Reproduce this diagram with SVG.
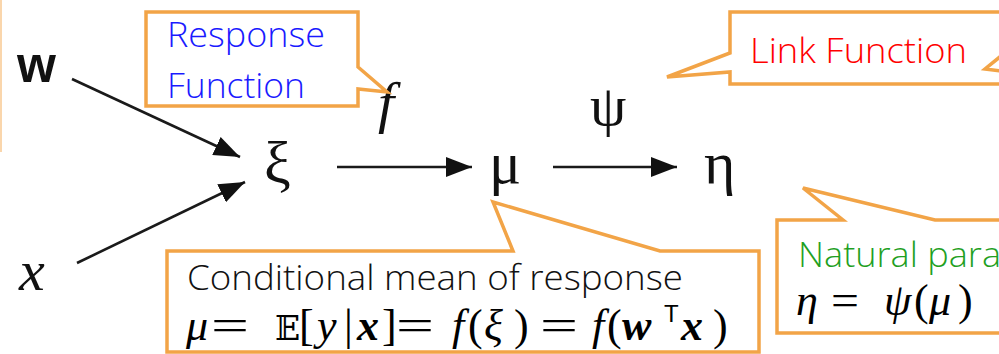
<svg xmlns="http://www.w3.org/2000/svg" width="999" height="354" viewBox="0 0 999 354">
<defs>
<style>
.callout{fill:#ffffff;stroke:#F2A447;stroke-width:3.5;stroke-linejoin:miter}
.lbl{font-family:"Open Sans","Noto Sans","Liberation Sans",sans-serif;font-size:34px;font-weight:300}
.sym{font-family:"Liberation Serif","DejaVu Serif",serif;fill:#111}
.math{font-family:"Liberation Serif","DejaVu Serif",serif;font-size:44px;fill:#000;font-style:italic}
.up{font-style:normal}
.bi{font-weight:bold;font-style:italic}
.conn{stroke:#1a1a1a;stroke-width:2.6;fill:none}
</style>
<marker id="ah" markerUnits="userSpaceOnUse" markerWidth="26" markerHeight="20" refX="26" refY="10" orient="auto">
<path d="M0,0 L26,10 L0,20 Z" fill="#111"/>
</marker>
</defs>
<rect x="0" y="0" width="999" height="354" fill="#ffffff"/>
<line x1="1" y1="0" x2="1" y2="152" stroke="#FAD6AC" stroke-width="2"/>

<g id="connectors">
<line class="conn" x1="72" y1="79" x2="240" y2="157" marker-end="url(#ah)"/>
<line class="conn" x1="77" y1="263" x2="245" y2="182" marker-end="url(#ah)"/>
<line class="conn" x1="337" y1="167" x2="472" y2="167" marker-end="url(#ah)"/>
<line class="conn" x1="553" y1="167" x2="677" y2="167" marker-end="url(#ah)"/>
</g>

<g id="node-w"><text x="17" y="82" font-family="Liberation Sans,sans-serif" font-weight="bold" font-size="50" fill="#111">w</text></g>
<g id="node-x"><text class="sym" x="19" y="290" font-size="58" font-style="italic">x</text></g>
<g id="node-xi"><text class="sym" x="264" y="183" font-size="60">ξ</text></g>
<g id="node-mu"><text class="sym" x="489" y="183" font-size="60">μ</text></g>
<g id="node-eta"><text class="sym" x="704" y="183" font-size="60">η</text></g>
<g id="label-f"><text class="sym" x="378" y="122" font-size="58" font-style="italic">f</text></g>
<g id="label-psi"><text class="sym" x="590" y="125" font-size="58">ψ</text></g>

<g id="callout-response">
<path class="callout" d="M146,12 H358 V67 L387,92 L358,89 V106 H146 Z"/>
<text class="lbl" x="167" y="47" fill="#1A1AFF" textLength="158" lengthAdjust="spacingAndGlyphs">Response</text>
<text class="lbl" x="167" y="98" fill="#1A1AFF" textLength="138" lengthAdjust="spacingAndGlyphs">Function</text>
</g>

<g id="callout-link">
<path class="callout" d="M730,12 H1005 V84 H730 V72 L667,77 L730,53 Z"/>
<text class="lbl" x="750" y="63" fill="#FF0000" textLength="217" lengthAdjust="spacingAndGlyphs">Link Function</text>
<polyline points="1001,56 985,69 1001,71" fill="none" stroke="#F2A447" stroke-width="3.5"/>
</g>

<g id="callout-mean">
<path class="callout" d="M167,251 H513 L493,202 L660,251 H759 V352 H167 Z"/>
<text class="lbl" x="187" y="290" fill="#111" textLength="496" lengthAdjust="spacingAndGlyphs">Conditional mean of response</text>
<text class="math" y="340"><tspan x="186">μ</tspan><tspan class="up" x="211" textLength="38" lengthAdjust="spacingAndGlyphs">=</tspan><tspan class="up" x="275" font-family="DejaVu Serif,DejaVu Sans,serif" font-size="33">𝔼</tspan><tspan class="up" x="299">[</tspan><tspan x="317">y</tspan><tspan class="up" x="344">|</tspan><tspan class="bi" x="357">x</tspan><tspan class="up" x="382">]</tspan><tspan class="up" x="396" textLength="38" lengthAdjust="spacingAndGlyphs">=</tspan><tspan x="452">f</tspan><tspan class="up" x="468">(</tspan><tspan x="484">ξ</tspan><tspan class="up" x="514">)</tspan><tspan class="up" x="540" textLength="38" lengthAdjust="spacingAndGlyphs">=</tspan><tspan x="592">f</tspan><tspan class="up" x="607">(</tspan><tspan class="bi" x="622">w</tspan><tspan class="up" x="664" y="322" font-family="Liberation Sans,sans-serif" font-size="24">T</tspan><tspan class="bi" x="681" y="340">x</tspan><tspan class="up" x="713">)</tspan></text>
</g>

<g id="callout-natural">
<path class="callout" d="M777,220 H843 L803,188 L935,220 H1005 V333 H777 Z"/>
<text class="lbl" x="798" y="267" fill="#1FA01F" textLength="203" lengthAdjust="spacingAndGlyphs">Natural para</text>
<text class="math" y="315"><tspan x="796">η</tspan><tspan class="up" x="831" textLength="28" lengthAdjust="spacingAndGlyphs">=</tspan><tspan x="884">ψ</tspan><tspan class="up" x="914">(</tspan><tspan x="929">μ</tspan><tspan class="up" x="958">)</tspan></text>
</g>
</svg>
